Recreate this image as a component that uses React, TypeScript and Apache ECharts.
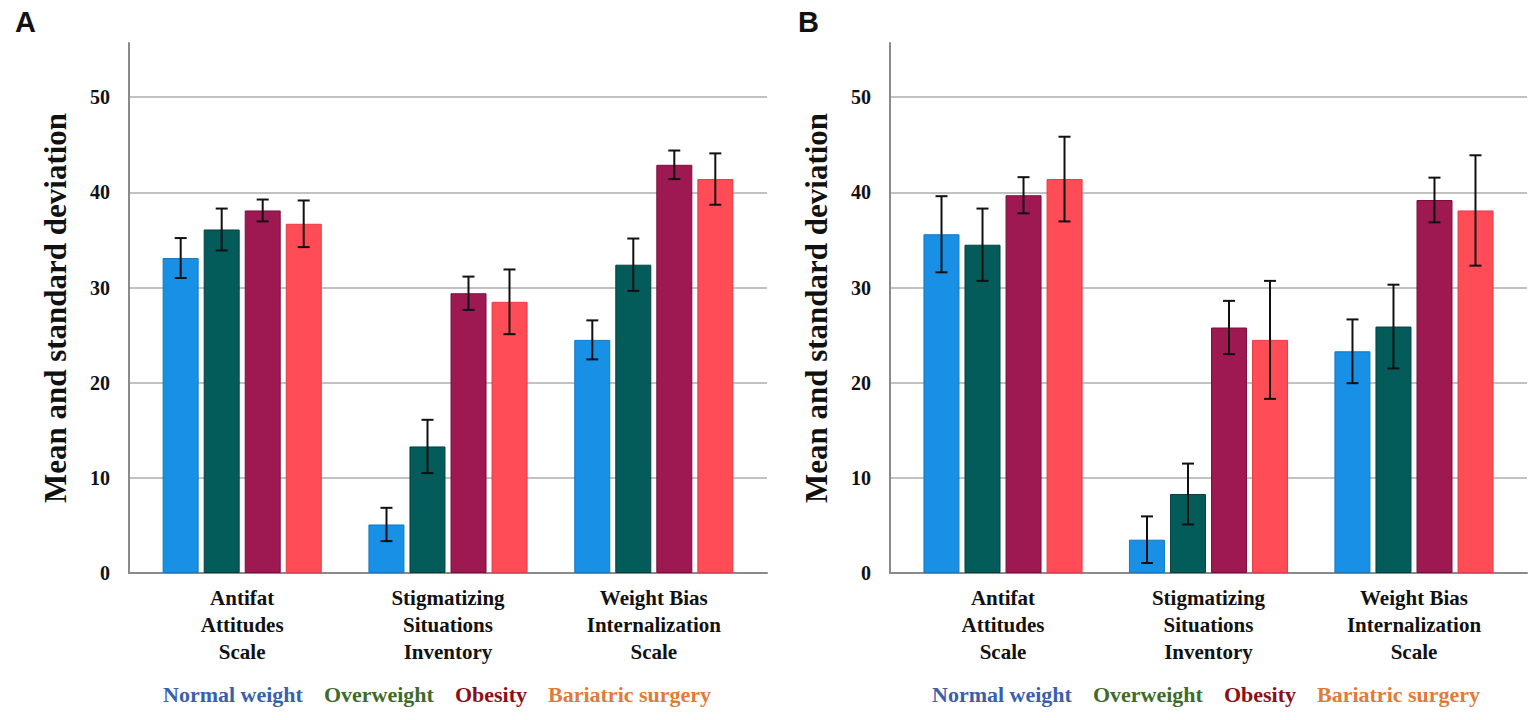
import React, { useEffect, useRef } from "react";
import * as echarts from "echarts";

const categories = [
  "Antifat\nAttitudes\nScale",
  "Stigmatizing\nSituations\nInventory",
  "Weight Bias\nInternalization\nScale",
];
const groups = ["Normal weight", "Overweight", "Obesity", "Bariatric surgery"];
const barColors = ["#1890e6", "#035c5a", "#9e1852", "#ff4c56"];
const barBorders = ["#1477c0", "#024140", "#7a0f3c", "#e83a44"];
const legendColors = ["#3a5fae", "#3e6b2c", "#8c0f16", "#e07b3a"];

// Panel A: mean and standard deviation per group (index = category)
const meansA = [
  [33.1, 5.1, 24.5],
  [36.1, 13.3, 32.4],
  [38.1, 29.4, 42.9],
  [36.7, 28.5, 41.4],
];
const sdA = [
  [2.1, 1.75, 2.05],
  [2.2, 2.8, 2.75],
  [1.15, 1.75, 1.5],
  [2.45, 3.4, 2.7],
];
// Panel B
const meansB = [
  [35.6, 3.5, 23.3],
  [34.5, 8.3, 25.9],
  [39.7, 25.8, 39.2],
  [41.4, 24.5, 38.1],
];
const sdB = [
  [4.0, 2.45, 3.35],
  [3.8, 3.2, 4.4],
  [1.9, 2.8, 2.35],
  [4.45, 6.2, 5.8],
];

const yTicks = [0, 10, 20, 30, 40, 50];

const SERIF = "'Liberation Serif', 'Times New Roman', serif";
const BAR_W = 36;
const BAR_STEP = 41;

function buildPanel(gi: number, means: number[][], sds: number[][]) {
  const series: any[] = [];
  groups.forEach((g, k) => {
    series.push({
      type: "bar",
      name: g,
      xAxisIndex: gi,
      yAxisIndex: gi,
      barWidth: BAR_W,
      barGap: "14%",
      itemStyle: { color: barColors[k], borderColor: barBorders[k], borderWidth: 1 },
      data: means[k].map((v, i) => [i, v]),
    });
  });
  const errData: number[][] = [];
  groups.forEach((_, k) => {
    means[k].forEach((m, i) => {
      errData.push([i, m - sds[k][i], m + sds[k][i], k]);
    });
  });
  series.push({
    type: "custom",
    xAxisIndex: gi,
    yAxisIndex: gi,
    z: 10,
    encode: { x: 0, y: [1, 2] },
    data: errData,
    renderItem: (params: any, api: any) => {
      const x = api.value(0);
      const lo = api.coord([x, api.value(1)]);
      const hi = api.coord([x, api.value(2)]);
      const k = api.value(3);
      const cx = lo[0] + (k - 1.5) * BAR_STEP;
      const cap = 6;
      const style = { stroke: "#111", lineWidth: 2 };
      return {
        type: "group",
        children: [
          { type: "line", shape: { x1: cx, y1: lo[1], x2: cx, y2: hi[1] }, style },
          { type: "line", shape: { x1: cx - cap, y1: lo[1], x2: cx + cap, y2: lo[1] }, style },
          { type: "line", shape: { x1: cx - cap, y1: hi[1], x2: cx + cap, y2: hi[1] }, style },
        ],
      };
    },
  });
  return series;
}

function xAxisFor(gi: number) {
  return {
    type: "value",
    gridIndex: gi,
    min: -0.55,
    max: 2.55,
    splitNumber: 6,
    axisLine: { show: true, onZero: false, lineStyle: { color: "#8a8a8a", width: 2 } },
    axisTick: { show: false },
    splitLine: { show: false },
    axisLabel: {
      margin: 11,
      color: "#111",
      fontFamily: SERIF,
      fontWeight: "bold",
      fontSize: 21,
      lineHeight: 27,
      align: "center",
      formatter: (v: number) => {
        const r = Math.round(v);
        return Math.abs(v - r) < 1e-6 && r >= 0 && r < categories.length ? categories[r] : "";
      },
    },
  };
}

function yAxisFor(gi: number) {
  return {
    type: "value",
    gridIndex: gi,
    min: 0,
    max: 55.7,
    interval: 10,
    name: "Mean and standard deviation",
    nameLocation: "middle",
    nameGap: 58,
    nameTextStyle: { fontFamily: SERIF, fontWeight: "bold", fontSize: 31, color: "#111" },
    axisLine: { show: true, onZero: false, lineStyle: { color: "#8a8a8a", width: 2 } },
    axisTick: { show: false },
    splitLine: {
      show: true,
      lineStyle: {
        color: ["#c2c2c2", "#c2c2c2", "#c2c2c2", "#c2c2c2", "#c2c2c2", "#c2c2c2", "rgba(0,0,0,0)"],
        width: 2,
      },
    },
    axisLabel: {
      margin: 19,
      color: "#111",
      fontFamily: SERIF,
      fontWeight: "bold",
      fontSize: 20,
      formatter: (v: number) => (yTicks.indexOf(Math.round(v * 1000) / 1000) >= 0 ? String(v) : ""),
    },
  };
}

function legendFor(left: number) {
  return {
    left,
    top: 683,
    padding: 0,
    itemGap: 16,
    itemWidth: 0,
    itemHeight: 0,
    icon: "none",
    selectedMode: false,
    textStyle: { fontFamily: SERIF, fontWeight: "bold", fontSize: 22 },
    data: groups.map((g, k) => ({ name: g, icon: "none", textStyle: { color: legendColors[k] } })),
  };
}

export default function App() {
  const ref = useRef<HTMLDivElement>(null);
  useEffect(() => {
    if (!ref.current) return;
    const chart = echarts.init(ref.current, null, { renderer: "svg" });
    const option: any = {
      animation: false,
      backgroundColor: "#fff",
      title: [
        {
          text: "A",
          left: 15,
          top: 7,
          padding: 0,
          textStyle: { fontFamily: "'Liberation Sans', Arial, sans-serif", fontWeight: "bold", fontSize: 29, color: "#111" },
        },
        {
          text: "B",
          left: 798,
          top: 7,
          padding: 0,
          textStyle: { fontFamily: "'Liberation Sans', Arial, sans-serif", fontWeight: "bold", fontSize: 29, color: "#111" },
        },
      ],
      legend: [legendFor(158), legendFor(927)],
      grid: [
        { left: 129, top: 43, width: 638, height: 530 },
        { left: 890, top: 43, width: 637, height: 530 },
      ],
      xAxis: [xAxisFor(0), xAxisFor(1)],
      yAxis: [yAxisFor(0), yAxisFor(1)],
      series: [...buildPanel(0, meansA, sdA), ...buildPanel(1, meansB, sdB)],
    };
    chart.setOption(option);
    return () => chart.dispose();
  }, []);
  return (
    <div
      ref={ref}
      style={{ position: "fixed", left: 0, top: 0, width: 1535, height: 720, background: "#fff" }}
    />
  );
}
